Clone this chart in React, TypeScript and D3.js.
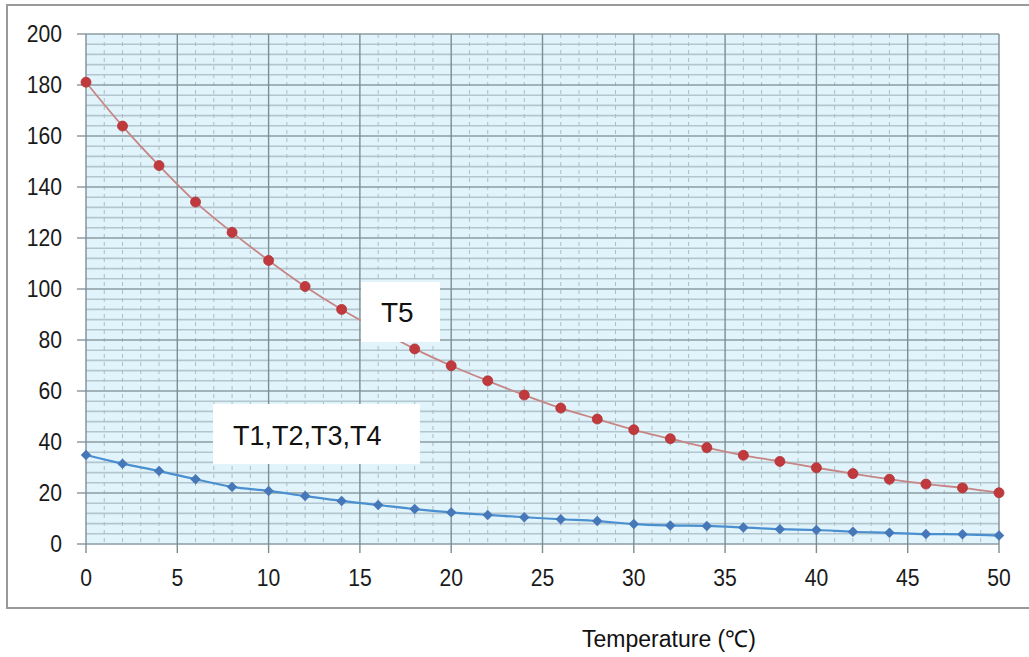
import React from "react";
import * as d3 from "d3";

const temps = [0, 2, 4, 6, 8, 10, 12, 14, 16, 18, 20, 22, 24, 26, 28, 30, 32, 34, 36, 38, 40, 42, 44, 46, 48, 50];
const t5Values = [181.1, 163.9, 148.4, 134.1, 122.2, 111.2, 101.0, 92.0, 84.0, 76.5, 69.9, 64.0, 58.4, 53.3, 49.0, 44.8, 41.3, 37.8, 34.8, 32.4, 29.9, 27.6, 25.4, 23.5, 22.0, 20.1];
const t14Values = [34.9, 31.5, 28.6, 25.4, 22.4, 20.8, 18.8, 16.9, 15.3, 13.7, 12.4, 11.4, 10.5, 9.7, 9.0, 7.8, 7.3, 7.1, 6.5, 5.8, 5.5, 4.8, 4.4, 3.9, 3.8, 3.3];
const xTicks = [0, 5, 10, 15, 20, 25, 30, 35, 40, 45, 50];
const yTicks = [0, 20, 40, 60, 80, 100, 120, 140, 160, 180, 200];
const xLabel = "Temperature (℃)";
const t5Label = "T5";
const t14Label = "T1,T2,T3,T4";

const W = 1029;
const H = 657;
const plot = { left: 86, right: 999, top: 34, bottom: 544 };

export default function App() {
  const x = d3.scaleLinear().domain([0, 50]).range([plot.left, plot.right]);
  const y = d3.scaleLinear().domain([0, 200]).range([plot.bottom, plot.top]);

  const minorX = d3.range(0, 51, 1).filter((v) => v % 5 !== 0);
  const minorY = d3.range(0, 201, 4).filter((v) => v % 20 !== 0);

  const line = d3
    .line<number>()
    .x((_, i) => x(temps[i]))
    .y((d) => y(d))
    .curve(d3.curveCatmullRom.alpha(0.5));

  const font = "Arial, 'Liberation Sans', Helvetica, sans-serif";
  const diamond = d3.symbol().type(d3.symbolDiamond2).size(70)();

  return (
    <svg
      width={W}
      height={H}
      style={{ position: "absolute", left: 0, top: 0, display: "block", background: "#fff" }}
      fontFamily={font}
    >
      {/* outer frame */}
      <rect x={7} y={5} width={W} height={603} fill="#fff" stroke="#9a9a9a" strokeWidth={2} />

      {/* plot background */}
      <rect x={plot.left} y={plot.top} width={plot.right - plot.left} height={plot.bottom - plot.top} fill="#e1f4fb" />

      {/* minor horizontal grid */}
      {minorY.map((v) => (
        <line key={"my" + v} x1={plot.left} x2={plot.right} y1={y(v)} y2={y(v)} stroke="#b3c6cf" strokeWidth={1.6} />
      ))}
      {/* minor vertical grid */}
      {minorX.map((v) => (
        <line key={"mx" + v} x1={x(v)} x2={x(v)} y1={plot.top} y2={plot.bottom} stroke="#aebcc3" strokeWidth={1} strokeDasharray="4,4" />
      ))}
      {/* major horizontal grid */}
      {yTicks.map((v) => (
        <line key={"gy" + v} x1={plot.left - 9} x2={plot.right} y1={y(v)} y2={y(v)} stroke="#8d9ca3" strokeWidth={1.6} />
      ))}
      {/* major vertical grid */}
      {xTicks.map((v) => (
        <line key={"gx" + v} x1={x(v)} x2={x(v)} y1={plot.top} y2={plot.bottom + 9} stroke="#7f8d93" strokeWidth={1.4} />
      ))}

      {/* y tick labels */}
      {yTicks.map((v) => (
        <text
          key={"ly" + v}
          transform={`translate(62,${y(v)}) scale(0.88,1)`}
          textAnchor="end"
          dominantBaseline="central"
          fontSize={24}
          fill="#1a1a1a"
        >
          {v}
        </text>
      ))}
      {/* x tick labels */}
      {xTicks.map((v) => (
        <text
          key={"lx" + v}
          transform={`translate(${x(v)},586) scale(0.88,1)`}
          textAnchor="middle"
          fontSize={24}
          fill="#1a1a1a"
        >
          {v}
        </text>
      ))}

      {/* T1-T4 series */}
      <path d={line(t14Values) || ""} fill="none" stroke="#4a8fd0" strokeWidth={2.2} />
      {t14Values.map((v, i) => (
        <path key={"b" + i} d={diamond || ""} transform={`translate(${x(temps[i])},${y(v)})`} fill="#4677b8" />
      ))}

      {/* T5 series */}
      <path d={line(t5Values) || ""} fill="none" stroke="#c78585" strokeWidth={1.8} />
      {t5Values.map((v, i) => (
        <circle key={"r" + i} cx={x(temps[i])} cy={y(v)} r={5} fill="#c0393c" stroke="#b03538" strokeWidth={0.8} />
      ))}

      {/* labels */}
      <rect x={361} y={282} width={79} height={60} fill="#fff" />
      <text x={381} y={322} fontSize={28} fill="#111">
        {t5Label}
      </text>
      <rect x={213} y={404} width={207} height={60} fill="#fff" />
      <text x={233} y={445} fontSize={27} fill="#111">
        {t14Label}
      </text>

      {/* axis title */}
      <text x={669} y={647} textAnchor="middle" fontSize={23} fill="#111">
        {xLabel}
      </text>
    </svg>
  );
}
